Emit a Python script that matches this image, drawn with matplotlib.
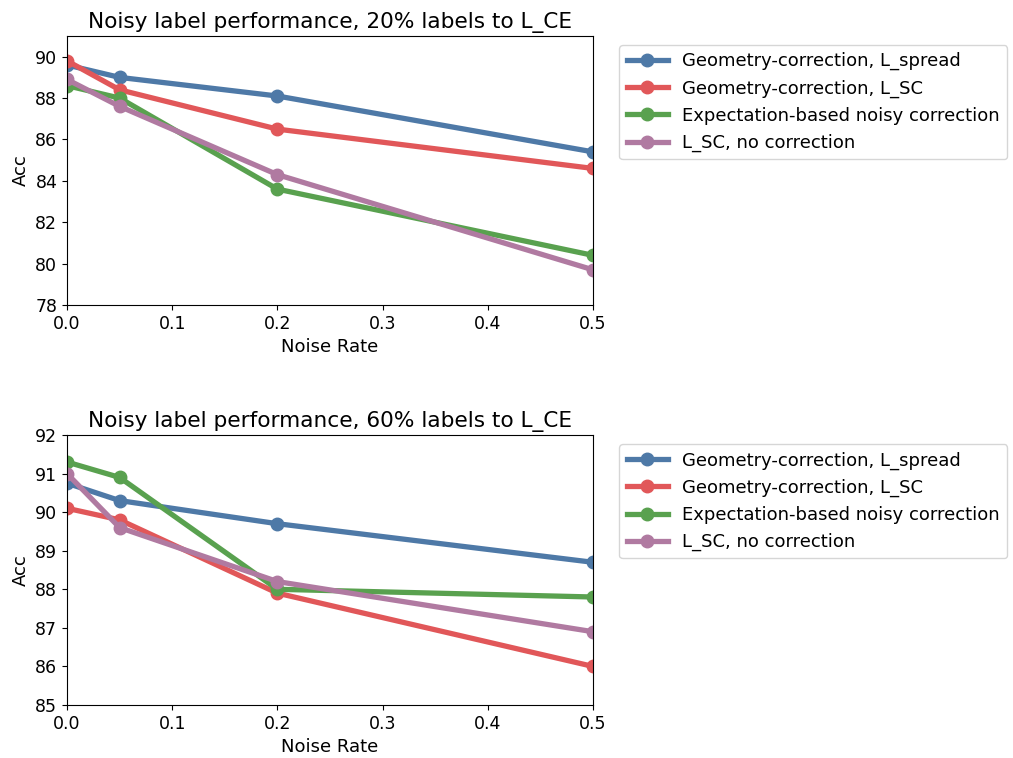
import matplotlib
matplotlib.use("Agg")
import matplotlib.pyplot as plt

noise = [0.0, 0.05, 0.2, 0.5]
labels = ["Geometry-correction, L_spread", "Geometry-correction, L_SC",
          "Expectation-based noisy correction", "L_SC, no correction"]
colors = ["#4e79a7", "#e15759", "#59a14f", "#b07aa1"]

top_spread = [89.6, 89.0, 88.1, 85.4]
top_sc = [89.8, 88.4, 86.5, 84.6]
top_exp = [88.6, 88.0, 83.6, 80.4]
top_nocorr = [88.9, 87.6, 84.3, 79.7]

bot_spread = [90.75, 90.3, 89.7, 88.7]
bot_sc = [90.1, 89.8, 87.9, 86.0]
bot_exp = [91.3, 90.9, 88.0, 87.8]
bot_nocorr = [91.0, 89.6, 88.2, 86.9]

W, H = 1013, 758
fig = plt.figure(figsize=(W / 100, H / 100), dpi=100)

def axes_px(l, t, r, b):
    return fig.add_axes([l / W, 1 - b / H, (r - l) / W, (b - t) / H])

ax1 = axes_px(67, 36, 593, 305)
ax2 = axes_px(67, 435, 593, 705)

panels = [
    (ax1, [top_spread, top_sc, top_exp, top_nocorr], "Noisy label performance, 20% labels to L_CE", (78, 91), range(78, 91, 2)),
    (ax2, [bot_spread, bot_sc, bot_exp, bot_nocorr], "Noisy label performance, 60% labels to L_CE", (85, 92), range(85, 93)),
]

for ax, series, title, ylim, yt in panels:
    for s, lab, c in zip(series, labels, colors):
        ax.plot(noise, s, color=c, lw=3.8, marker="o", ms=9, label=lab, clip_on=True)
    ax.set_xlim(0, 0.5)
    ax.set_ylim(*ylim)
    ax.set_yticks(list(yt))
    ax.set_xticks([0, 0.1, 0.2, 0.3, 0.4, 0.5])
    ax.set_xticklabels(["0.0", "0.1", "0.2", "0.3", "0.4", "0.5"])
    ax.tick_params(labelsize=12.5)
    ax.set_xlabel("Noise Rate", fontsize=13)
    ax.set_ylabel("Acc", fontsize=13)
    ax.set_title(title, fontsize=15.6)
    ax.legend(loc="upper left", bbox_to_anchor=(1.05, 1.0 - 9 / 269), fontsize=13,
              borderaxespad=0, handlelength=2.3)

fig.savefig("out.png", dpi=100)
